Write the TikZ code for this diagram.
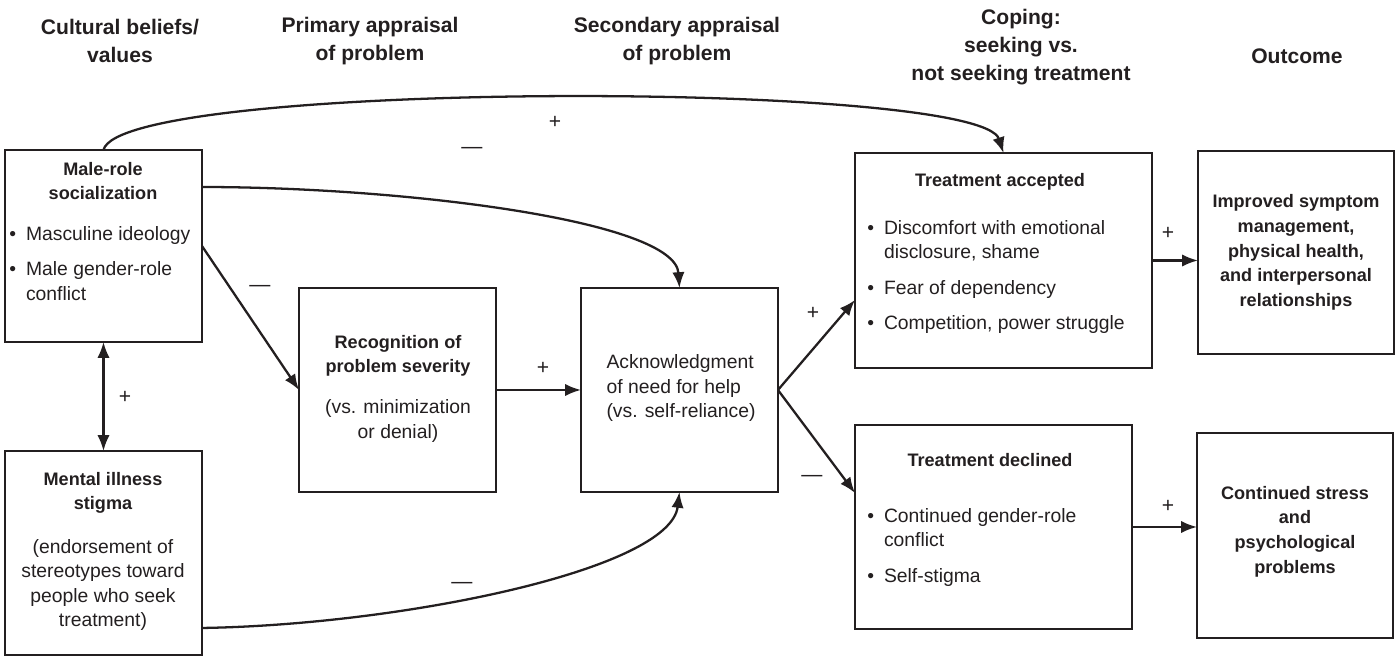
\documentclass[tikz,border=0pt]{standalone}
\usepackage{fontspec}
\setmainfont{Liberation Sans}
\usepackage{xcolor}
\usetikzlibrary{positioning,arrows.meta,calc}
\definecolor{ink}{HTML}{231F20}
\newcommand{\bul}{\makebox[9.5pt][l]{\textbullet}}
\newcommand{\ind}{\hspace*{9.5pt}}

\begin{document}
\begin{tikzpicture}[
    x=0.02cm, y=-0.02cm,
    >={Latex[length=9pt,width=7pt]},
    every node/.style={text=ink},
    box/.style={draw=ink, line width=1.1pt, anchor=north west, inner sep=0pt, outer sep=0pt},
    header/.style={font=\fontsize{12}{16}\selectfont\bfseries, align=center},
    boxtitle/.style={font=\fontsize{10.3}{14}\selectfont\bfseries, align=center},
    boxtext/.style={font=\fontsize{11}{14}\selectfont, align=center},
    items/.style={font=\fontsize{11}{14}\selectfont, align=left, anchor=north west, inner sep=0pt},
    signlabel/.style={font=\fontsize{12}{12}\selectfont},
    link/.style={draw=ink, line width=1.3pt, ->}
]
\useasboundingbox (0,0) rectangle (1395,656);

\node[header] (hcult) at (120,41) {Cultural beliefs/\\values};
\node[header] (hprim) at (370,41) {Primary appraisal\\of problem};
\node[header] (hsec) at (677,41) {Secondary appraisal\\of problem};
\node[header] (hcope) at (1021,47) {Coping:\\seeking vs.\\not seeking treatment};
\node[header] (hout) at (1297,56) {Outcome};

\node[box, minimum width=3.94cm, minimum height=3.84cm] (male) at (5,150) {};
\node[box, minimum width=3.94cm, minimum height=4.08cm] (stigma) at (5,451) {};
\node[box, minimum width=3.94cm, minimum height=4.08cm] (recog) at (299,288) {};
\node[box, minimum width=3.94cm, minimum height=4.08cm] (ackn) at (581,288) {};
\node[box, minimum width=5.94cm, minimum height=4.3cm] (accept) at (855,153) {};
\node[box, minimum width=5.54cm, minimum height=4.08cm] (decline) at (855,425) {};
\node[box, minimum width=3.92cm, minimum height=4.06cm] (improve) at (1198,151) {};
\node[box, minimum width=3.92cm, minimum height=4.1cm] (stress) at (1197,433) {};

\node[boxtitle] (malet) at (103,181) {Male-role\\socialization};
\node[items] (malei) at (9,226) {\bul Masculine ideology\\[6pt]\bul Male gender-role\\\ind conflict};
\node[boxtitle] (stigmat) at (103,493) {Mental illness\\stigma};
\node[boxtext] (stigmax) at (103,585) {(endorsement of\\stereotypes toward\\people who seek\\treatment)};
\node[boxtitle] (recogt) at (398,356) {Recognition of\\problem severity};
\node[boxtext] (recogx) at (398,421) {(vs. minimization\\or denial)};
\node[boxtext, align=left] (acknx) at (681,388) {Acknowledgment\\of need for help\\(vs. self-reliance)};
\node[boxtitle] (acceptt) at (1000,182) {Treatment accepted};
\node[items] (accepti) at (867,220) {\bul Discomfort with emotional\\\ind disclosure, shame\\[6pt]\bul Fear of dependency\\[6pt]\bul Competition, power struggle};
\node[boxtitle] (declinet) at (990,460) {Treatment declined};
\node[items] (declinei) at (867,508) {\bul Continued gender-role\\\ind conflict\\[6pt]\bul Self-stigma};
\node[boxtitle] (improvet) at (improve.center) {Improved symptom\\management,\\physical health,\\and interpersonal\\relationships};
\node[boxtitle] (stresst) at ($(stress.center)+(0,-4)$) {Continued stress\\and\\psychological\\problems};

\draw[link] (male.north) .. controls (120,80) and (980,80) .. (accept.north);
\node[signlabel] (plustop) at (555,122) {+};
\draw[link] ($(male.north east)+(0,37)$) .. controls (400,187) and (675,220) .. (ackn.north);
\node[signlabel] (minustop) at (472,150) {---};
\draw[link, <->] (male.south) -- (stigma.north);
\node[signlabel] (plusleft) at (125,397) {+};
\draw[link] (male.east) -- (recog.west);
\node[signlabel] (minusrec) at (260,288) {---};
\draw[link] (recog.east) -- (ackn.west);
\node[signlabel] (plusack) at (543,368) {+};
\draw[link] ($(stigma.south east)+(0,-27)$) .. controls (400,625) and (670,570) .. (ackn.south);
\node[signlabel] (minusbot) at (462,585) {---};
\draw[link] (ackn.east) -- ($(accept.south west)+(0,-68)$);
\node[signlabel] (plusacc) at (813,313) {+};
\draw[link] (ackn.east) -- ($(decline.north west)+(0,68)$);
\node[signlabel] (minusdec) at (812,478) {---};
\draw[link] (accept.east) -- (accept.east -| improve.west);
\node[signlabel] (plusimp) at (1168,233) {+};
\draw[link] (decline.east) -- (decline.east -| stress.west);
\node[signlabel] (plusstr) at (1168,506) {+};
\end{tikzpicture}
\end{document}
